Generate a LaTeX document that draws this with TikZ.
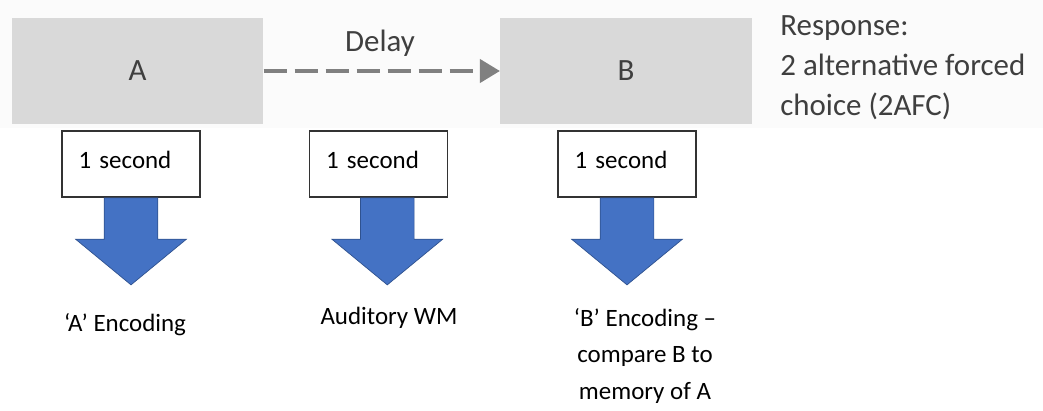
\documentclass[tikz,border=0pt]{standalone}
\usepackage{fontspec}
\setmainfont{Carlito}
\usetikzlibrary{shapes.arrows,arrows.meta,positioning}
\definecolor{stimgray}{HTML}{D9D9D9}
\definecolor{delaygray}{HTML}{808080}
\definecolor{wmblue}{HTML}{4472C4}
\definecolor{wmblueline}{HTML}{2F528F}
\definecolor{toptext}{HTML}{3F3F3F}

\begin{document}
\begin{tikzpicture}[x=0.02cm,y=-0.02cm,
    stim/.style={fill=stimgray, minimum width=5.03cm, minimum height=2.12cm,
        text=toptext, font=\fontsize{17.6}{22.7}\selectfont},
    secbox/.style={draw=black!80, line width=0.6pt, fill=white,
        minimum width=2.76cm, minimum height=1.32cm,
        text width=2.1cm, align=left, text depth=0.15cm,
        font=\fontsize{14.2}{21}\selectfont},
    blockarrow/.style={single arrow, shape border rotate=270, fill=wmblue,
        draw=wmblueline, line width=0.4pt, inner sep=0.53cm,
        minimum height=1.74cm, minimum width=2.2cm,
        single arrow head extend=0.57cm, single arrow tip angle=101,
        single arrow head indent=0pt},
    stage/.style={align=center, font=\fontsize{14.2}{21}\selectfont},
    delay/.style={draw=delaygray, line width=2.3pt,
        dash pattern=on 0.46cm off 0.16cm,
        -{Triangle[length=0.4cm,width=0.46cm]}}]
    \useasboundingbox (0,0) rectangle (1043,410);
    \fill[gray!3] (0,0) rectangle (1043,128);

    % stimuli
    \node[stim] (A) at (137.5,71) {A};
    \node[stim] (B) at (626,71) {B};
    \draw[delay] (A) -- (B);
    \node[text=toptext, font=\fontsize{17.6}{22.7}\selectfont] (delay) at (380,43) {Delay};
    \node[anchor=west, align=left, text=toptext, inner sep=0pt,
        font=\fontsize{17.6}{22.7}\selectfont] (resp) at (780,68)
        {Response:\\2 alternative forced\\choice (2AFC)};

    % timing and stages
    \node[secbox] (sec-a) at (131,164) {1 second};
    \node[secbox] (sec-wm) at (378.5,164) {1 second};
    \node[secbox] (sec-b) at (627,164) {1 second};
    \node[blockarrow, anchor=tail] (arr-a) at (sec-a.south) {};
    \node[blockarrow, anchor=tail] (arr-wm) at ([xshift=5]sec-wm.south) {};
    \node[blockarrow, anchor=tail] (arr-b) at (sec-b.south) {};
    \node[stage] (enc-a) at (125,325) {‘A’ Encoding};
    \node[stage] (wm) at (389,318) {Auditory WM};
    \node[stage] (enc-b) at (645,356) {‘B’ Encoding –\\compare B to\\memory of A};
\end{tikzpicture}
\end{document}
